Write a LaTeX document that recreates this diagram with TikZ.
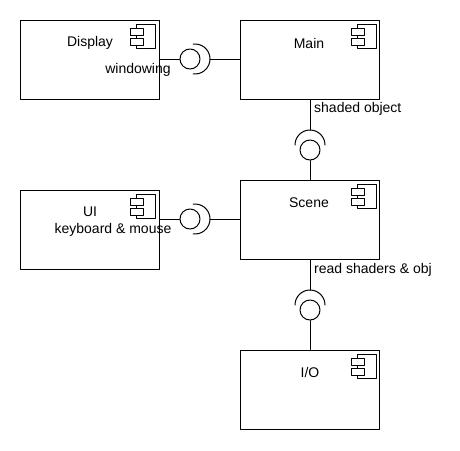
\documentclass[tikz,border=0pt]{standalone}
\usepackage{fontspec}
\setmainfont{Liberation Sans}
\usetikzlibrary{positioning}

\tikzset{
  comp/.style={draw,line width=1pt,minimum width=139pt,minimum height=79pt,inner sep=0pt},
  ball/.style={draw,circle,line width=1pt,minimum size=20pt,inner sep=0pt},
  lbl/.style={inner sep=0pt,font=\fontsize{14}{16}\selectfont}
}
\newcommand{\compicon}[1]{
\draw[line width=1pt,shift={(#1.north east)}] (-23,5) rectangle (-4,29);
\draw[line width=1pt,fill=white,shift={(#1.north east)}] (-29,9) rectangle (-16,16);
\draw[line width=1pt,fill=white,shift={(#1.north east)}] (-29,19) rectangle (-16,26);
}

\begin{document}
\begin{tikzpicture}[line cap=round,line join=round,x=1pt,y=-1pt]
\useasboundingbox (0,0) rectangle (460,450);
\node[comp] (display) at (89.5,59.5) {};
\node[comp] (main) at (310,59.5) {};
\node[comp] (ui) at (89.5,229.5) {};
\node[comp] (scene) at (310,219.5) {};
\node[comp] (io) at (310,389.5) {};
\compicon{display}
\compicon{main}
\compicon{ui}
\compicon{scene}
\compicon{io}
\node[lbl] (tdisplay) at (90,43) {Display};
\node[lbl] (tmain) at (309,43) {Main};
\node[lbl] (tui) at (90,212) {UI};
\node[lbl] (tscene) at (309,203) {Scene};
\node[lbl] (tio) at (310,372) {I/O};
\node[ball] (b1) at (190,59) {};
\node[ball] (b2) at (310,150) {};
\node[ball] (b3) at (190,219) {};
\node[ball] (b4) at (310,310) {};
\coordinate (s1) at (210,59);
\coordinate (s2) at (310,130);
\coordinate (s3) at (210,219);
\coordinate (s4) at (310,290);
\draw [line width=1pt] (display.east |- b1) -- (b1.west);
\draw [line width=1pt] (195,59) ++(-97:15) arc (-97:97:15);
\draw [line width=1pt] (s1) -- (s1 -| main.west);
\draw [line width=1pt] (ui.east |- b3) -- (b3.west);
\draw [line width=1pt] (195,219) ++(-97:15) arc (-97:97:15);
\draw [line width=1pt] (s3) -- (s3 -| scene.west);
\draw [line width=1pt] (main.south) -- (s2);
\draw [line width=1pt] (310,145) ++(180:15) arc (180:360:15);
\draw [line width=1pt] (b2.south) -- (scene.north);
\draw [line width=1pt] (scene.south) -- (s4);
\draw [line width=1pt] (310,305) ++(180:15) arc (180:360:15);
\draw [line width=1pt] (b4.south) -- (io.north);
\node[lbl] (twin) at (138,70) {windowing};
\node[lbl] (tkey) at (113,230) {keyboard \& mouse};
\node[lbl,anchor=west] (tshade) at (314,109) {shaded object};
\node[lbl,anchor=west] (tread) at (314,270) {read shaders \& obj};
\end{tikzpicture}
\end{document}
